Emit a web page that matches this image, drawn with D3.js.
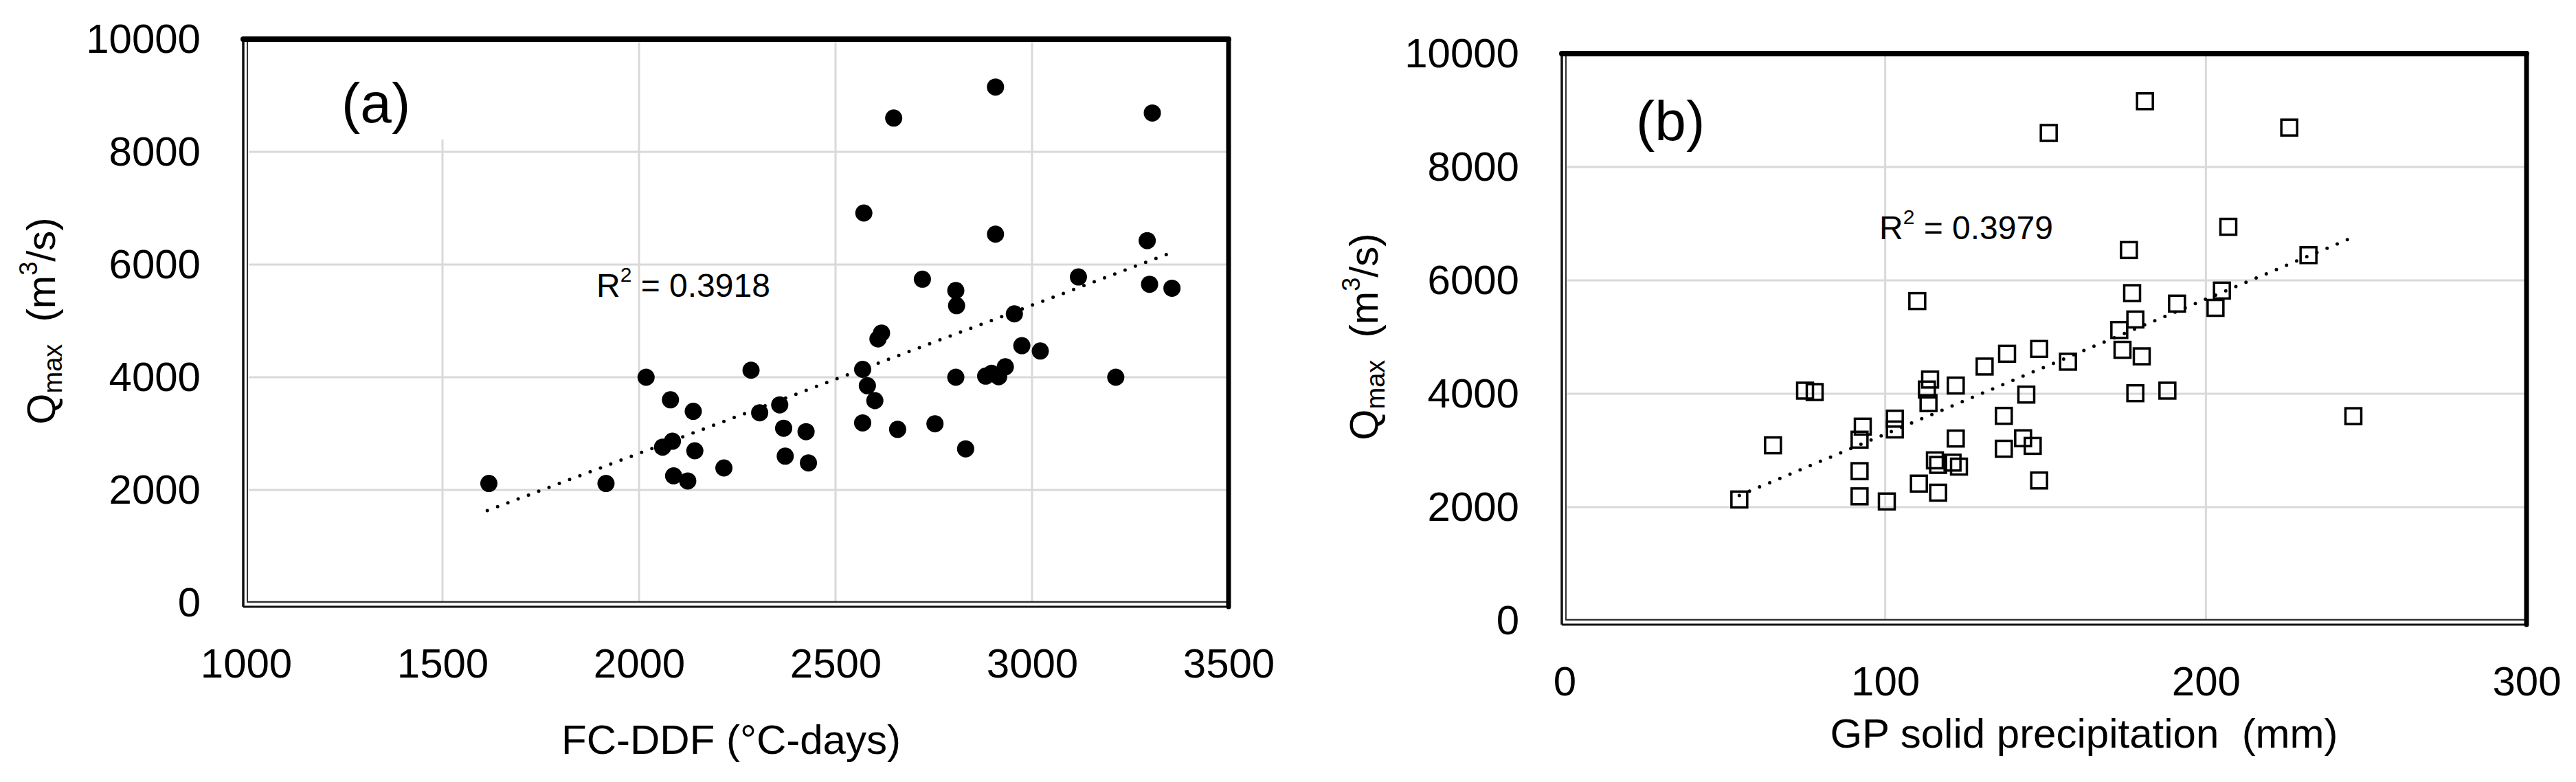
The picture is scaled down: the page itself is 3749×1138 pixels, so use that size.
<!DOCTYPE html>
<html>
<head>
<meta charset="utf-8">
<script src="https://d3js.org/d3.v7.min.js"></script>
<style>
  body { margin: 0; background: #fff; }
  text { font-family: "Liberation Sans", Arial, sans-serif; fill: #000; }
</style>
</head>
<body>
<div id="vis"></div>
<script>
// (a) FC-DDF (°C-days) vs Qmax
var ddfX = [1618, 1916, 2018, 2080, 2138, 2085, 2060, 2142, 2088, 2124, 2216, 2285,
            2307, 2358, 2368, 2425, 2372, 2431, 2569, 2581, 2600, 2569, 2658, 2753,
            2831, 2572, 2648, 2907, 3306, 2907, 3293, 2721, 2806, 2808, 3118, 3299,
            3356, 2955, 2617, 2608, 2974, 3021, 2932, 2806, 2882, 2897, 2915, 3213]
var ddfQ = [2115, 2115, 4000, 3600, 3395, 2865, 2760, 2695, 2250, 2160, 2390, 4125,
            3370, 3510, 3095, 3035, 2600, 2480, 4140, 3850, 3585, 3190, 3075, 3175,
            2730, 6915, 8600, 9150, 8690, 6540, 6425, 5740, 5540, 5270, 5780, 5650,
            5580, 5125, 4785, 4680, 4560, 4465, 4185, 4000, 4020, 4070, 4010, 4000]

// (b) GP solid precipitation (mm) vs Qmax
var gpX = [54.5, 65, 75, 78, 92, 92, 93, 92, 100.5, 103, 103, 110.5, 110, 114, 113, 113.5,
           116.5, 115.5, 116.5, 121, 123, 122, 122, 131, 137, 137, 138, 143, 144, 146, 148, 148, 151,
           157, 173, 174, 176, 177, 178, 178, 180, 181, 188, 191, 203, 205, 207, 226, 232, 246]
var gpQ = [2135, 3090, 4055, 4030, 2190, 2635, 3420, 3190, 2100, 3560, 3370, 2415, 5635, 4250, 4075, 3835,
           2255, 2825, 2745, 2785, 2715, 3210, 4145, 4480, 3610, 3030, 4705, 3215, 3985, 3080, 2470, 4790, 8600,
           4565, 5125, 4775, 6535, 5775, 5310, 4010, 4660, 9160, 4055, 5590, 5515, 5820, 6945, 8695, 6445, 3605]

// trendline end points
var trendA = [[1614, 1634], [3348, 6195]]
var trendB = [[54.5, 2206], [244.5, 6727]]

var yTicks = [0, 2000, 4000, 6000, 8000, 10000]
var xTicksA = [1000, 1500, 2000, 2500, 3000, 3500]
var xTicksB = [0, 100, 200, 300]
var r2A = "0.3918"
var r2B = "0.3979"

var svg = d3.select("#vis").append("svg")
  .attr("width", 3749).attr("height", 1138)
  .style("background", "#fff")

var panels = [
  { x: d3.scaleLinear().domain([1000, 3500]).range([358, 1788]),
    y: d3.scaleLinear().domain([0, 10000]).range([877, 57]),
    xTicks: xTicksA, xs: ddfX, ys: ddfQ, trend: trendA, marker: "dot",
    label: "(a)", labelPos: [497, 178], labelBox: [420, 62, 460, 141],
    r2: r2A, r2Pos: [868, 432],
    xTitle: "FC-DDF (°C-days)", xTitlePos: [1064, 1097],
    yTitlePos: [80, 467] },
  { x: d3.scaleLinear().domain([0, 300]).range([2277, 3677]),
    y: d3.scaleLinear().domain([0, 10000]).range([903, 78]),
    xTicks: xTicksB, xs: gpX, ys: gpQ, trend: trendB, marker: "square",
    label: "(b)", labelPos: [2381, 204], labelBox: null,
    r2: r2B, r2Pos: [2735, 348],
    xTitle: "GP solid precipitation  (mm)", xTitlePos: [3033, 1088],
    yTitlePos: [2005, 490] }
]

panels.forEach(function(p) {
  var L = p.x.range()[0], R = p.x.range()[1]
  var B = p.y.range()[0], T = p.y.range()[1]
  var g = svg.append("g")

  // gridlines
  g.selectAll(".gy").data(yTicks.slice(1, -1)).enter().append("line")
    .attr("x1", L + 4).attr("x2", R - 3)
    .attr("y1", function(d) { return p.y(d) }).attr("y2", function(d) { return p.y(d) })
    .attr("stroke", "#d9d9d9").attr("stroke-width", 3)
  g.selectAll(".gx").data(p.xTicks.slice(1, -1)).enter().append("line")
    .attr("x1", function(d) { return p.x(d) }).attr("x2", function(d) { return p.x(d) })
    .attr("y1", T + 4).attr("y2", B - 2)
    .attr("stroke", "#d9d9d9").attr("stroke-width", 3)

  // white box behind the panel letter
  if (p.labelBox) {
    g.append("rect").attr("x", p.labelBox[0]).attr("y", p.labelBox[1])
      .attr("width", p.labelBox[2]).attr("height", p.labelBox[3]).attr("fill", "#fff")
  }

  // frame: thick top/right, double thin left/bottom
  g.append("line").attr("x1", L - 4).attr("x2", L - 4).attr("y1", T).attr("y2", B + 6)
    .attr("stroke", "#111").attr("stroke-width", 3.5)
  g.append("line").attr("x1", L + 2).attr("x2", L + 2).attr("y1", T).attr("y2", B)
    .attr("stroke", "#333").attr("stroke-width", 2)
  g.append("line").attr("x1", L - 4).attr("x2", R).attr("y1", B + 6).attr("y2", B + 6)
    .attr("stroke", "#111").attr("stroke-width", 3)
  g.append("line").attr("x1", L + 2).attr("x2", R).attr("y1", B - 1).attr("y2", B - 1)
    .attr("stroke", "#333").attr("stroke-width", 2.5)
  g.append("line").attr("x1", L - 4).attr("x2", R).attr("y1", T).attr("y2", T)
    .attr("stroke", "#000").attr("stroke-width", 8).attr("stroke-linecap", "round")
  g.append("line").attr("x1", R).attr("x2", R).attr("y1", T).attr("y2", B + 6)
    .attr("stroke", "#000").attr("stroke-width", 7).attr("stroke-linecap", "round")

  // axes labels
  var ya = g.append("g").attr("transform", "translate(" + L + ",0)")
    .call(d3.axisLeft(p.y).tickValues(yTicks).tickSize(0).tickPadding(66).tickFormat(d3.format("d")))
  ya.select(".domain").remove()
  ya.selectAll("text").style("font-size", "60px").attr("dy", "0.33em")

  var xa = g.append("g").attr("transform", "translate(0," + B + ")")
    .call(d3.axisBottom(p.x).tickValues(p.xTicks).tickSize(0).tickPadding(66).tickFormat(d3.format("d")))
  xa.select(".domain").remove()
  xa.selectAll("text").style("font-size", "60px")

  // trendline
  g.append("path").datum(p.trend)
    .attr("d", d3.line().x(function(d) { return p.x(d[0]) }).y(function(d) { return p.y(d[1]) }))
    .attr("fill", "none").attr("stroke", "#000").attr("stroke-width", 5)
    .attr("stroke-linecap", "round").attr("stroke-dasharray", "0 16")

  // points
  var pts = d3.range(p.xs.length)
  if (p.marker == "dot") {
    g.selectAll(".pt").data(pts).enter().append("circle")
      .attr("cx", function(i) { return p.x(p.xs[i]) })
      .attr("cy", function(i) { return p.y(p.ys[i]) })
      .attr("r", 12.5).attr("fill", "#000")
  } else {
    g.selectAll(".pt").data(pts).enter().append("rect")
      .attr("x", function(i) { return p.x(p.xs[i]) - 11.5 })
      .attr("y", function(i) { return p.y(p.ys[i]) - 11.5 })
      .attr("width", 23).attr("height", 23)
      .attr("fill", "none").attr("stroke", "#000").attr("stroke-width", 3.5)
  }

  // panel letter
  g.append("text").attr("x", p.labelPos[0]).attr("y", p.labelPos[1])
    .style("font-size", "82px").text(p.label)

  // R squared
  var r = g.append("text").attr("x", p.r2Pos[0]).attr("y", p.r2Pos[1]).style("font-size", "48px")
  r.append("tspan").text("R")
  r.append("tspan").attr("dy", -22).style("font-size", "30px").text("2")
  r.append("tspan").attr("dy", 22).text(" = " + p.r2)

  // axis titles
  g.append("text").attr("x", p.xTitlePos[0]).attr("y", p.xTitlePos[1])
    .attr("text-anchor", "middle").style("font-size", "60px")
    .style("white-space", "pre").text(p.xTitle)

  var yt = g.append("text")
    .attr("transform", "translate(" + p.yTitlePos[0] + "," + p.yTitlePos[1] + ") rotate(-90)")
    .attr("text-anchor", "middle").style("font-size", "58px").style("white-space", "pre")
  yt.append("tspan").text("Q")
  yt.append("tspan").attr("dy", 10).style("font-size", "38px").text("max")
  yt.append("tspan").attr("dy", -10).text("  (m")
  yt.append("tspan").attr("dy", -26).style("font-size", "36px").text("3")
  yt.append("tspan").attr("dy", 26).text("/s)")
})
</script>
</body>
</html>
